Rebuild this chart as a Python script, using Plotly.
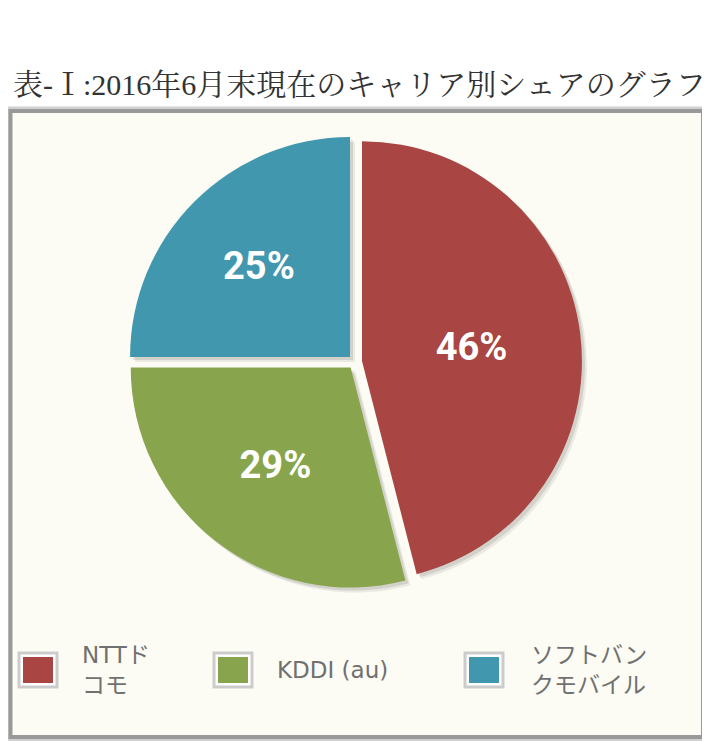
import plotly.graph_objects as go

# データ
carriers = ["NTTドコモ", "KDDI (au)", "ソフトバンクモバイル"]
legend_labels = ["NTTド<br>コモ", "KDDI (au)", "ソフトバン<br>クモバイル"]
shares = [46, 29, 25]
colors = ["#a94543", "#88a54d", "#4198ae"]

# ページの余白 (8px) を考慮
OFF = 8
W, H = 710 - OFF, 741 - OFF


def px(x):
    return (x - OFF) / W


def py(y):
    return 1 - (y - OFF) / H


pull = 0.032
# 円グラフの位置 (ピクセル)
cx, cy, half = 355, 362, 227
dom_x = [px(cx - half), px(cx + half)]
dom_y = [py(cy + half), py(cy - half)]

fig = go.Figure()

# 影
for off, alpha in [(5, 0.07), (3, 0.10)]:
    fig.add_trace(go.Pie(
        labels=carriers, values=shares, sort=False, direction="clockwise",
        rotation=0, pull=[pull] * 3, textinfo="none", hoverinfo="skip",
        marker=dict(colors=["rgba(0,0,0,%s)" % alpha] * 3, line=dict(width=0)),
        domain=dict(x=[dom_x[0] + off / W, dom_x[1] + off / W],
                    y=[dom_y[0] - off / H, dom_y[1] - off / H]),
        showlegend=False,
    ))

fig.add_trace(go.Pie(
    labels=carriers, values=shares, sort=False, direction="clockwise",
    rotation=0, pull=[pull] * 3,
    marker=dict(colors=colors, line=dict(width=0)),
    texttemplate="%{value}%", textposition="inside",
    insidetextorientation="horizontal",
    textfont=dict(family="Roboto, sans-serif", size=38, color="white", weight="bold"),
    domain=dict(x=dom_x, y=dom_y),
    showlegend=False,
))

shapes = [
    # 枠
    dict(type="rect", xref="paper", yref="paper", layer="below",
         x0=px(10), x1=px(704), y0=py(738), y1=py(110),
         line=dict(color="#d0d0d0", width=7), fillcolor="#fcfcf4"),
    dict(type="rect", xref="paper", yref="paper", layer="below",
         x0=px(10.5), x1=px(703), y0=py(737), y1=py(111),
         line=dict(color="#999999", width=4), fillcolor="#fcfcf4"),
]

annotations = [
    dict(text="表-Ⅰ:2016年6月末現在のキャリア別シェアのグラフ",
         xref="paper", yref="paper", x=px(359), y=py(84),
         xanchor="center", yanchor="middle", showarrow=False,
         font=dict(family="Liberation Serif, Noto Serif CJK JP, Noto Sans CJK JP",
                   size=30, color="#333333")),
]

# 凡例
leg_box_x = [19, 214, 465]
leg_text_x = [80, 275, 529]
leg_y = 670
for i in range(len(carriers)):
    x0 = leg_box_x[i]
    shapes.append(dict(type="rect", xref="paper", yref="paper",
                       x0=px(x0), x1=px(x0 + 38), y0=py(leg_y + 17), y1=py(leg_y - 17),
                       line=dict(color="#cccccc", width=3), fillcolor="white"))
    shapes.append(dict(type="rect", xref="paper", yref="paper",
                       x0=px(x0 + 4), x1=px(x0 + 34), y0=py(leg_y + 13), y1=py(leg_y - 13),
                       line=dict(width=0), fillcolor=colors[i]))
    annotations.append(dict(text=legend_labels[i], xref="paper", yref="paper",
                            x=px(leg_text_x[i]), y=py(leg_y), xanchor="left",
                            yanchor="middle", align="left", showarrow=False,
                            font=dict(family="DejaVu Sans, Noto Sans CJK JP", size=23,
                                      color="#707070")))

fig.update_layout(
    width=W, height=H,
    margin=dict(l=0, r=0, t=0, b=0),
    paper_bgcolor="white",
    shapes=shapes,
    annotations=annotations,
)

fig.write_html("out.html")
